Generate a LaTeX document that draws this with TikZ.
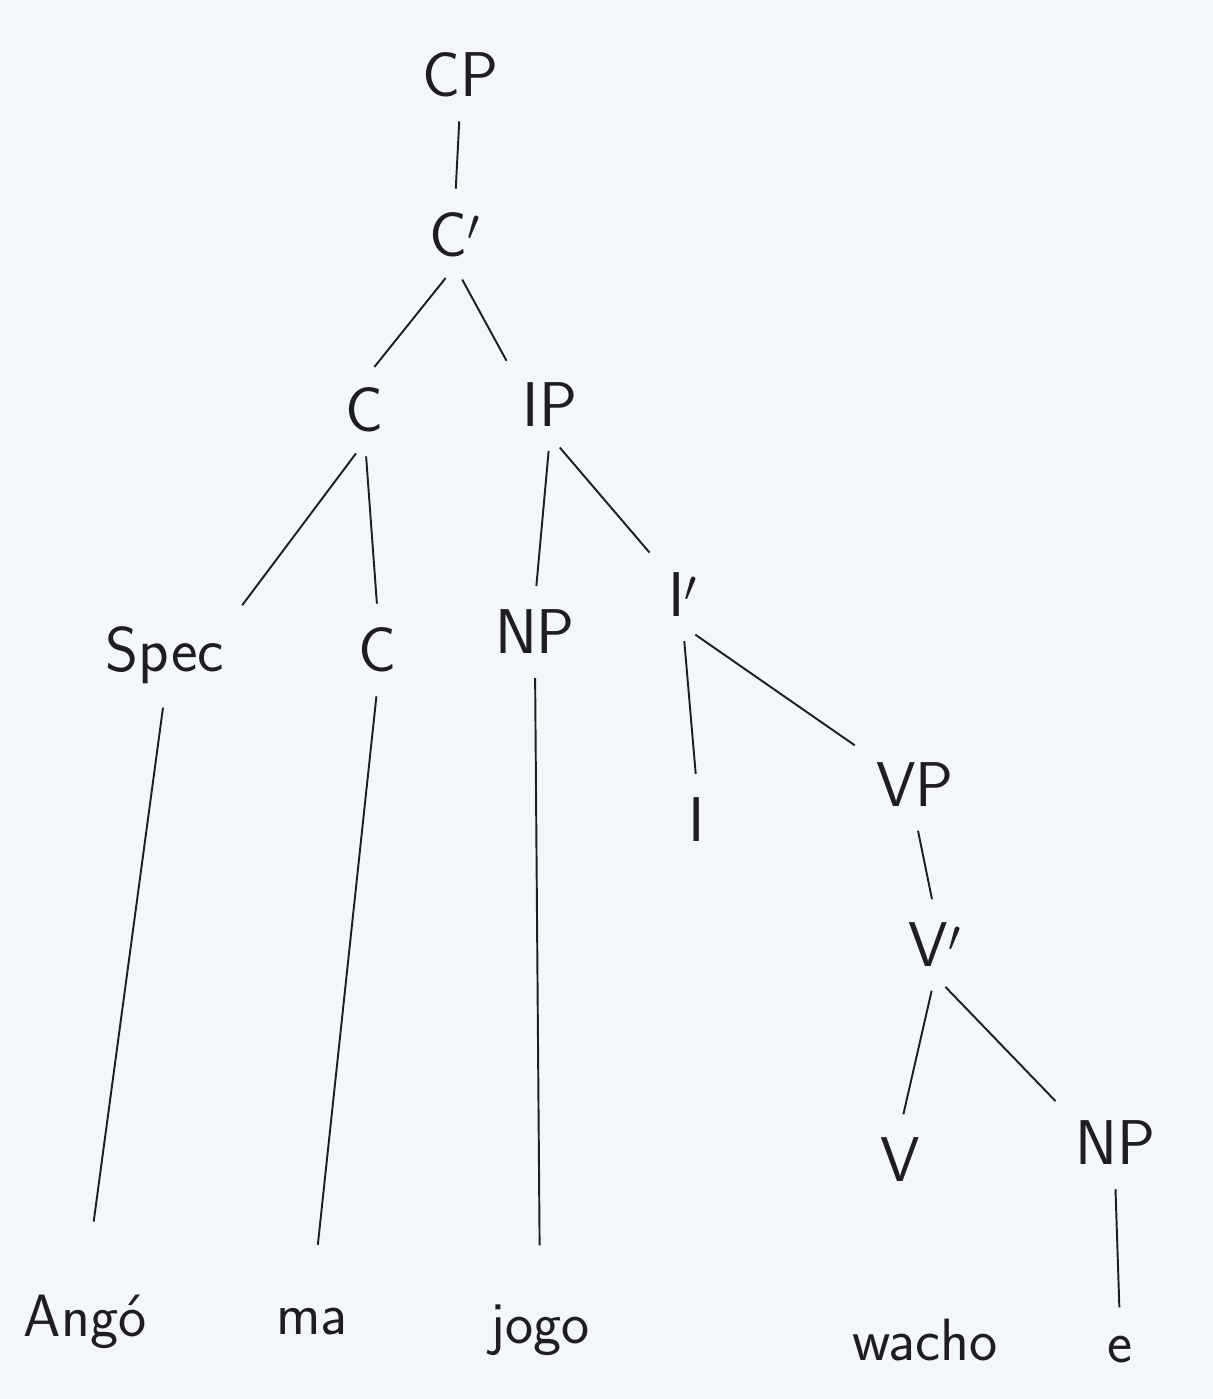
\documentclass[tikz,border=0pt]{standalone}
\usepackage{fontspec}
\definecolor{paper}{RGB}{243,247,252}
\definecolor{ink}{RGB}{30,30,34}

\begin{document}
\begin{tikzpicture}[
  x=0.02cm, y=-0.02cm,
  cat/.style={font=\fontsize{36}{40}\sffamily, text=ink, inner sep=5pt},
  word/.style={font=\fontsize{34}{38}\sffamily, text=ink, inner sep=5pt},
  branch/.style={draw=ink, line width=1.1pt, shorten <=0.3cm, shorten >=0.3cm},
  leaf/.style={draw=ink, line width=1.1pt, shorten <=0.3cm, shorten >=1.1cm}
]
\fill[paper] (0,0) rectangle (1213,1399);
\useasboundingbox (0,0) rectangle (1213,1399);

% categories
\node[cat] (cp)    at (460,75)   {CP};
\node[cat] (cbar)  at (455,235)  {C$'$};
\node[cat] (c)     at (365,410)  {C};
\node[cat] (ip)    at (550,405)  {IP};
\node[cat] (spec)  at (165,655)  {Spec};
\node[cat] (chead) at (378,650)  {C};
\node[cat] (np)    at (535,632)  {NP};
\node[cat] (ibar)  at (683,595)  {I$'$};
\node[cat] (ihead) at (697,820)  {I};
\node[cat] (vp)    at (915,785)  {VP};
\node[cat] (vbar)  at (935,945)  {V$'$};
\node[cat] (vhead) at (900,1160) {V};
\node[cat] (npo)   at (1115,1143) {NP};

% words
\node[word] (ango)  at (85,1322)  {Angó};
\node[word] (ma)    at (312,1322) {ma};
\node[word] (jogo)  at (540,1330) {jogo};
\node[word] (wacho) at (925,1340) {wacho};
\node[word] (e)     at (1120,1350) {e};

% branches
\draw[branch] (cp.south) -- (cbar.north);
\draw[branch] (cbar.south) -- (c.north);
\draw[branch] (cbar.south) -- (ip.north west);
\draw[branch] (c.south) -- (spec.north east);
\draw[branch] (c.south) -- (chead.north);
\draw[branch] (ip.south) -- (np.north);
\draw[branch] (ip.south) -- (ibar.north west);
\draw[branch] (ibar.south) -- (ihead.north);
\draw[branch] (ibar.south) -- (vp.north west);
\draw[branch] (vp.south) -- (vbar.north);
\draw[branch] (vbar.south) -- (vhead.north);
\draw[branch] (vbar.south) -- (npo.north west);

% down to the words
\draw[leaf, shorten >=1.3cm] (spec.south) -- (ango.north);
\draw[leaf] (chead.south) -- (ma.north);
\draw[leaf, shorten >=1.0cm] (np.south) -- (jogo.north);
\draw[leaf, shorten >=0.4cm] (npo.south) -- (e.north);
\end{tikzpicture}
\end{document}
